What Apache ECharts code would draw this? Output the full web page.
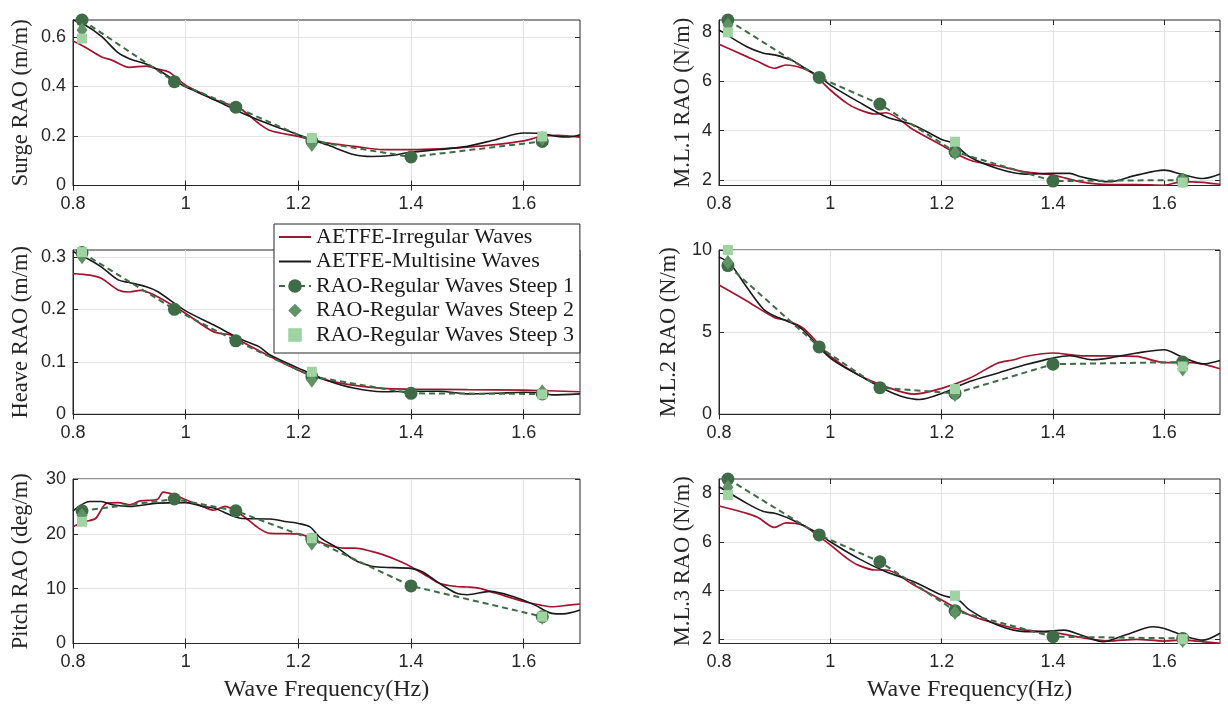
<!DOCTYPE html>
<html><head><meta charset="utf-8">
<script src="https://cdn.jsdelivr.net/npm/echarts@6/dist/echarts.min.js"></script>
<style>html,body{margin:0;padding:0;background:#fff}#c{width:1228px;height:710px}</style>
</head><body><div id="c"></div><script>
// ---------- data ----------
const freqReg = [0.816, 0.98, 1.089, 1.224, 1.4, 1.633];
const freqSteep = [0.816, 1.224, 1.633];
const xTicks = [0.8, 1.0, 1.2, 1.4, 1.6];
const seriesNames = ['AETFE-Irregular Waves', 'AETFE-Multisine Waves', 'RAO-Regular Waves Steep 1', 'RAO-Regular Waves Steep 2', 'RAO-Regular Waves Steep 3'];

// Surge
const surgeIrregular = [[0.8,0.583],[0.82,0.56],[0.85,0.52],[0.87,0.505],[0.9,0.477],[0.93,0.482],[0.95,0.47],[0.97,0.458],[1.0,0.405],[1.03,0.37],[1.05,0.347],[1.08,0.325],[1.1,0.306],[1.13,0.25],[1.15,0.222],[1.2,0.198],[1.25,0.172],[1.3,0.158],[1.35,0.145],[1.4,0.145],[1.45,0.148],[1.5,0.155],[1.55,0.165],[1.6,0.18],[1.63,0.197],[1.66,0.202],[1.7,0.195]];
const surgeMultisine = [[0.8,0.668],[0.82,0.65],[0.85,0.603],[0.88,0.536],[0.9,0.512],[0.93,0.49],[0.95,0.468],[0.98,0.425],[1.0,0.398],[1.05,0.347],[1.1,0.293],[1.15,0.246],[1.2,0.205],[1.25,0.165],[1.3,0.124],[1.33,0.117],[1.36,0.12],[1.4,0.134],[1.45,0.145],[1.5,0.158],[1.55,0.185],[1.6,0.212],[1.63,0.21],[1.66,0.198],[1.68,0.196],[1.7,0.205]];
const surgeSteep1 = [0.668, 0.419, 0.316, 0.18, 0.115, 0.178];
const surgeSteep2 = [0.628, 0.165, 0.19];
const surgeSteep3 = [0.593, 0.192, 0.198];
const surgeTicks = [0, 0.2, 0.4, 0.6];

// M.L.1
const ml1Irregular = [[0.8,7.49],[0.85,6.99],[0.87,6.79],[0.9,6.52],[0.92,6.65],[0.95,6.52],[0.97,6.29],[1.0,5.64],[1.03,5.1],[1.05,4.86],[1.08,4.67],[1.1,4.72],[1.15,4.02],[1.2,3.41],[1.25,2.81],[1.3,2.58],[1.35,2.33],[1.4,2.2],[1.45,1.93],[1.5,1.82],[1.55,1.82],[1.6,1.79],[1.63,1.93],[1.65,1.93],[1.7,1.83]];
const ml1Multisine = [[0.8,8.07],[0.85,7.39],[0.88,7.13],[0.9,7.06],[0.93,6.85],[0.95,6.58],[0.98,6.18],[1.0,5.84],[1.05,5.17],[1.1,4.56],[1.15,4.22],[1.2,3.64],[1.22,3.5],[1.25,2.94],[1.3,2.47],[1.35,2.24],[1.4,2.27],[1.43,2.27],[1.45,2.13],[1.5,1.93],[1.55,2.2],[1.6,2.4],[1.63,2.24],[1.67,2.06],[1.7,2.24]];
const ml1Steep1 = [8.47, 6.15, 5.07, 3.14, 1.96, 2.0];
const ml1Steep2 = [8.27, 3.1, 1.98];
const ml1Steep3 = [7.97, 3.55, 1.9];
const ml1Ticks = [2, 4, 6, 8];

// Heave
const heaveIrregular = [[0.8,0.268],[0.83,0.265],[0.85,0.259],[0.88,0.237],[0.9,0.233],[0.92,0.236],[0.95,0.224],[1.0,0.192],[1.05,0.157],[1.08,0.151],[1.1,0.138],[1.15,0.11],[1.2,0.084],[1.25,0.065],[1.3,0.055],[1.35,0.0495],[1.4,0.048],[1.5,0.047],[1.6,0.046],[1.7,0.043]];
const heaveMultisine = [[0.8,0.31],[0.83,0.294],[0.85,0.281],[0.88,0.256],[0.9,0.251],[0.93,0.243],[0.95,0.234],[1.0,0.197],[1.05,0.17],[1.1,0.142],[1.13,0.129],[1.15,0.113],[1.2,0.088],[1.25,0.065],[1.3,0.0495],[1.35,0.043],[1.4,0.044],[1.45,0.044],[1.5,0.039],[1.55,0.04],[1.6,0.042],[1.63,0.041],[1.65,0.037],[1.7,0.039]];
const heaveSteep1 = [0.308, 0.2, 0.14, 0.072, 0.04, 0.0387];
const heaveSteep2 = [0.300, 0.065, 0.043];
const heaveSteep3 = [0.309, 0.081, 0.038];
const heaveTicks = [0, 0.1, 0.2, 0.3];

// M.L.2
const ml2Irregular = [[0.8,7.87],[0.85,6.9],[0.9,5.88],[0.92,5.72],[0.95,5.27],[0.98,4.24],[1.0,3.52],[1.05,2.4],[1.1,1.68],[1.15,1.23],[1.2,1.58],[1.25,2.19],[1.3,3.11],[1.33,3.32],[1.35,3.52],[1.4,3.73],[1.45,3.56],[1.5,3.56],[1.55,3.52],[1.6,3.15],[1.65,3.15],[1.7,2.77]];
const ml2Multisine = [[0.8,9.57],[0.82,9.16],[0.85,7.73],[0.88,6.39],[0.9,5.98],[0.93,5.57],[0.95,5.16],[1.0,3.42],[1.05,2.4],[1.1,1.48],[1.13,1.07],[1.16,0.9],[1.2,1.27],[1.25,1.99],[1.3,2.5],[1.35,3.01],[1.4,3.42],[1.43,3.56],[1.47,3.32],[1.5,3.42],[1.55,3.73],[1.6,3.93],[1.63,3.52],[1.67,3.07],[1.7,3.28]];
const ml2Steep1 = [9.05, 4.1, 1.62, 1.27, 3.05, 3.18];
const ml2Steep2 = [9.26, 1.2, 2.75];
const ml2Steep3 = [10.0, 1.54, 2.91];
const ml2Ticks = [0, 5, 10];

// Pitch
const pitchIrregular = [[0.8,21.3],[0.82,22.2],[0.84,22.8],[0.86,25.6],[0.88,25.7],[0.9,25.3],[0.92,26.0],[0.95,26.3],[0.96,27.6],[0.98,27.1],[1.0,26.2],[1.03,25.0],[1.05,24.3],[1.07,25.0],[1.1,23.4],[1.13,21.0],[1.15,20.1],[1.2,20.0],[1.23,18.9],[1.25,18.0],[1.28,17.4],[1.3,17.4],[1.33,16.8],[1.35,16.2],[1.38,15.0],[1.4,14.0],[1.43,12.2],[1.45,11.0],[1.48,10.4],[1.5,10.3],[1.52,10.1],[1.55,9.2],[1.6,7.65],[1.63,7.0],[1.65,6.7],[1.68,7.0],[1.7,7.2]];
const pitchMultisine = [[0.8,24.2],[0.83,25.9],[0.85,25.9],[0.87,25.3],[0.9,25.0],[0.95,25.6],[1.0,25.7],[1.03,25.0],[1.05,24.7],[1.1,22.8],[1.15,22.7],[1.18,22.2],[1.2,21.9],[1.22,21.3],[1.24,19.2],[1.27,17.4],[1.3,15.2],[1.33,14.1],[1.35,13.9],[1.4,13.7],[1.42,13.1],[1.45,11.0],[1.48,9.2],[1.5,8.9],[1.54,9.5],[1.58,8.6],[1.62,7.0],[1.65,5.5],[1.67,5.4],[1.7,6.1]];
const pitchSteep1 = [24.2, 26.35, 24.2, 19.0, 10.5, 4.9];
const pitchSteep2 = [23.4, 18.3, 4.8];
const pitchSteep3 = [22.2, 19.2, 4.9];
const pitchTicks = [0, 10, 20, 30];

// M.L.3
const ml3Irregular = [[0.8,7.48],[0.85,7.18],[0.87,7.01],[0.9,6.6],[0.92,6.79],[0.95,6.7],[0.98,6.22],[1.0,5.88],[1.03,5.33],[1.05,5.05],[1.08,4.85],[1.1,4.85],[1.15,4.23],[1.2,3.62],[1.25,3.0],[1.3,2.63],[1.35,2.38],[1.4,2.29],[1.45,2.08],[1.5,1.93],[1.55,2.0],[1.6,1.93],[1.63,1.97],[1.67,1.9],[1.7,1.84]];
const ml3Multisine = [[0.8,8.27],[0.85,7.59],[0.88,7.25],[0.9,7.18],[0.93,6.93],[0.95,6.7],[0.98,6.33],[1.0,6.01],[1.05,5.33],[1.1,4.78],[1.15,4.37],[1.2,3.82],[1.23,3.62],[1.25,3.21],[1.3,2.59],[1.35,2.32],[1.38,2.32],[1.42,2.38],[1.45,2.18],[1.49,1.9],[1.53,2.18],[1.58,2.52],[1.6,2.45],[1.64,2.11],[1.67,1.97],[1.7,2.25]];
const ml3Steep1 = [8.59, 6.29, 5.19, 3.18, 2.11, 2.04];
const ml3Steep2 = [8.25, 3.1, 1.95];
const ml3Steep3 = [7.93, 3.79, 2.01];
const ml3Ticks = [2, 4, 6, 8];

// ---------- panels (built from arrays above) ----------
const panels = [
  {yName:'Surge RAO (m/m)', ymin:0, ymax:0.668, ticks:surgeTicks, irr:surgeIrregular, multi:surgeMultisine, s1:surgeSteep1, s2:surgeSteep2, s3:surgeSteep3},
  {yName:'M.L.1 RAO (N/m)', ymin:1.78, ymax:8.47, ticks:ml1Ticks, irr:ml1Irregular, multi:ml1Multisine, s1:ml1Steep1, s2:ml1Steep2, s3:ml1Steep3},
  {yName:'Heave RAO (m/m)', ymin:0, ymax:0.313, ticks:heaveTicks, irr:heaveIrregular, multi:heaveMultisine, s1:heaveSteep1, s2:heaveSteep2, s3:heaveSteep3},
  {yName:'M.L.2 RAO (N/m)', ymin:0, ymax:10, ticks:ml2Ticks, irr:ml2Irregular, multi:ml2Multisine, s1:ml2Steep1, s2:ml2Steep2, s3:ml2Steep3},
  {yName:'Pitch RAO (deg/m)', ymin:0, ymax:30, ticks:pitchTicks, irr:pitchIrregular, multi:pitchMultisine, s1:pitchSteep1, s2:pitchSteep2, s3:pitchSteep3},
  {yName:'M.L.3 RAO (N/m)', ymin:1.83, ymax:8.59, ticks:ml3Ticks, irr:ml3Irregular, multi:ml3Multisine, s1:ml3Steep1, s2:ml3Steep2, s3:ml3Steep3}
];

// ---------- layout & style ----------
const layout = [
  {left:73, top:20, width:507, height:165.5, nameGap:40},
  {left:719, top:20, width:501, height:165.5, nameGap:24},
  {left:73, top:250, width:507, height:164.3, nameGap:40},
  {left:719, top:250, width:501, height:164.3, nameGap:38},
  {left:73, top:479, width:507, height:164.5, nameGap:40},
  {left:719, top:479, width:501, height:164.5, nameGap:24}
];
const AX = '#262626', GRIDC = '#e3e3e3';
const RED = '#a2142f', BLACK = '#1a1a1a', G1 = '#3f6b47', G2 = '#5f9265', G3 = '#9fd3a2';
const SANS = 'Liberation Sans', SERIF = 'Liberation Serif';
const fmt = v => String(+(+v).toFixed(3));
const zip = (xs, ys) => xs.map((x, i) => [x, ys[i]]);

const grids = [], xAxes = [], yAxes = [], series = [];
panels.forEach((p, i) => {
  const L = layout[i];
  grids.push({left:L.left, top:L.top, width:L.width, height:L.height, show:true, borderColor:AX, borderWidth:1, backgroundColor:'rgba(0,0,0,0)'});
  const bottomRow = i >= 4;
  xAxes.push({type:'value', gridIndex:i, min:0.8, max:1.7, position:'bottom',
    name: bottomRow ? 'Wave Frequency(Hz)' : '', nameLocation:'middle', nameGap:34,
    nameTextStyle:{fontFamily:SERIF, fontSize:24, color:AX},
    axisLine:{show:true, lineStyle:{color:AX, width:1}},
    axisTick:{show:true, inside:true, length:5, customValues:xTicks, lineStyle:{color:AX}},
    axisLabel:{show:true, customValues:xTicks, margin:10, fontFamily:SANS, fontSize:18, color:AX, formatter:fmt},
    splitLine:{show:true, lineStyle:{color:GRIDC, width:1}}
  });
  yAxes.push({type:'value', gridIndex:i, min:p.ymin, max:p.ymax, position:'left',
    name:p.yName, nameLocation:'middle', nameGap:L.nameGap,
    nameTextStyle:{fontFamily:SERIF, fontSize:22.5, color:AX},
    axisLine:{show:true, lineStyle:{color:AX, width:1}},
    axisTick:{show:true, inside:true, length:5, customValues:p.ticks, lineStyle:{color:AX}},
    axisLabel:{show:true, customValues:p.ticks, margin:7, fontFamily:SANS, fontSize:18, color:AX, formatter:fmt},
    splitLine:{show:true, lineStyle:{color:GRIDC, width:1}}
  });
  series.push(
    {name:seriesNames[0], type:'line', xAxisIndex:i, yAxisIndex:i, data:p.irr, symbol:'none', showSymbol:false, smooth:0.3,
      lineStyle:{color:RED, width:1.7}, itemStyle:{color:RED}, z:3, silent:true},
    {name:seriesNames[1], type:'line', xAxisIndex:i, yAxisIndex:i, data:p.multi, symbol:'none', showSymbol:false, smooth:0.3,
      lineStyle:{color:BLACK, width:1.6}, itemStyle:{color:BLACK}, z:4, silent:true},
    {name:seriesNames[2], type:'line', xAxisIndex:i, yAxisIndex:i, data:zip(freqReg, p.s1), symbol:'circle', symbolSize:13,
      lineStyle:{color:G1, width:2, type:[6,4]}, itemStyle:{color:G1}, z:5, silent:true, clip:false},
    {name:seriesNames[3], type:'line', xAxisIndex:i, yAxisIndex:i, data:zip(freqSteep, p.s2), symbol:'diamond', symbolSize:[11,15],
      lineStyle:{color:G2, opacity:0}, itemStyle:{color:G2}, z:6, silent:true, clip:false},
    {name:seriesNames[4], type:'line', xAxisIndex:i, yAxisIndex:i, data:zip(freqSteep, p.s3), symbol:'rect', symbolSize:10,
      lineStyle:{color:G3, opacity:0}, itemStyle:{color:G3}, z:7, silent:true, clip:false}
  );
});
panels.forEach((p, i) => {
  xAxes.push({type:'value', gridIndex:i, min:0.8, max:1.7, position:'top',
    axisLine:{show:false}, axisLabel:{show:false}, splitLine:{show:false},
    axisTick:{show:true, inside:true, length:5, customValues:xTicks, lineStyle:{color:AX}}});
  yAxes.push({type:'value', gridIndex:i, min:p.ymin, max:p.ymax, position:'right',
    axisLine:{show:false}, axisLabel:{show:false}, splitLine:{show:false},
    axisTick:{show:true, inside:true, length:5, customValues:p.ticks, lineStyle:{color:AX}}});
});

const legendData = [
  {name:seriesNames[0], itemStyle:{opacity:0}},
  {name:seriesNames[1], itemStyle:{opacity:0}},
  {name:seriesNames[2]},
  {name:seriesNames[3]},
  {name:seriesNames[4]}
];

const chart = echarts.init(document.getElementById('c'), null, {renderer:'canvas'});
chart.setOption({
  animation:false,
  backgroundColor:'#ffffff',
  grid:grids, xAxis:xAxes, yAxis:yAxes, series:series,
  legend:{
    data:legendData, orient:'vertical', left:274, top:224,
    backgroundColor:'#ffffff', borderColor:AX, borderWidth:1,
    padding:[2,6,7,4], itemGap:2.5, itemWidth:32, itemHeight:17,
    textStyle:{fontFamily:SERIF, fontSize:22, color:'#1a1a1a', lineHeight:22},
    selectedMode:false, z:20
  }
});
</script></body></html>
